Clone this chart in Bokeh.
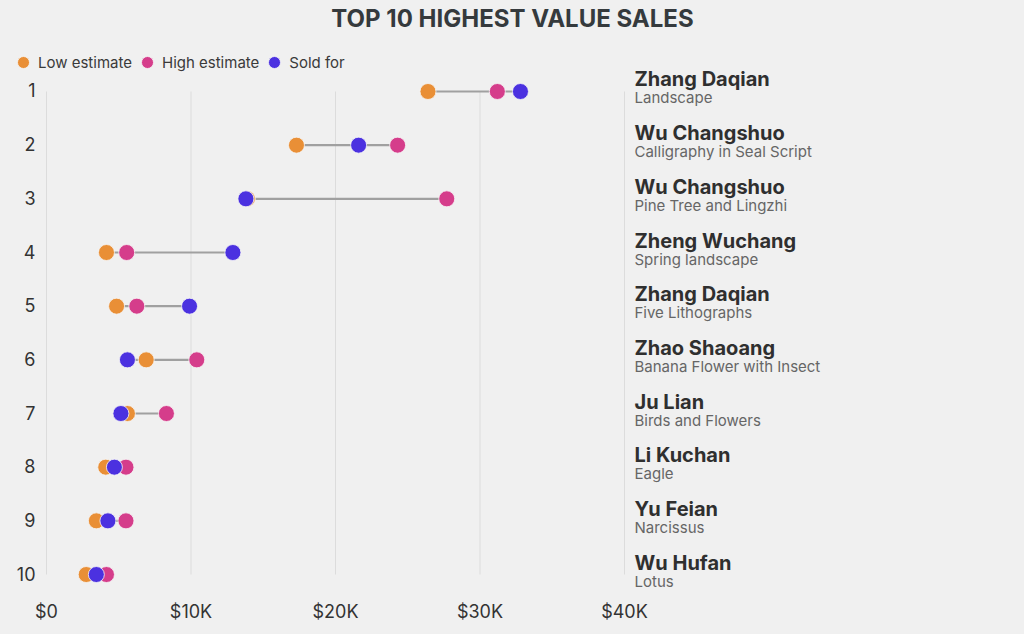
import numpy as np
from bokeh.plotting import figure
from bokeh.models import ColumnDataSource, Range1d, FixedTicker, Legend, LegendItem, Label
from bokeh.core.properties import value
from bokeh.embed import file_html
from bokeh.resources import INLINE

# ---------------- data ----------------
ranks = list(range(1, 11))
rank_labels = [str(r) for r in ranks]
artists = ["Zhang Daqian", "Wu Changshuo", "Wu Changshuo", "Zheng Wuchang", "Zhang Daqian",
           "Zhao Shaoang", "Ju Lian", "Li Kuchan", "Yu Feian", "Wu Hufan"]
works = ["Landscape", "Calligraphy in Seal Script", "Pine Tree and Lingzhi", "Spring landscape",
         "Five Lithographs", "Banana Flower with Insect", "Birds and Flowers", "Eagle",
         "Narcissus", "Lotus"]
low = [26400, 17300, 13900, 4150, 4850, 6900, 5600, 4100, 3450, 2750]
high = [31200, 24300, 27700, 5550, 6250, 10400, 8300, 5500, 5500, 4150]
sold = [32800, 21600, 13800, 12900, 9900, 5600, 5150, 4700, 4250, 3450]
x_ticks = [0, 10000, 20000, 30000, 40000]
x_tick_labels = ["$0", "$10K", "$20K", "$30K", "$40K"]
title_text = "TOP 10 HIGHEST VALUE SALES"

# ---------------- style ----------------
BG = "#f0f0f0"
FONT = "Inter"
ORANGE = "#e98f36"
PINK = "#d53d8b"
BLUE = "#4b31e0"

lo = np.minimum(np.minimum(low, high), sold)
hi = np.maximum(np.maximum(low, high), sold)

src = ColumnDataSource(dict(rank=ranks, rank_label=rank_labels, artist=artists, work=works,
                            low=low, high=high, sold=sold, lo=lo, hi=hi))
grid_src = ColumnDataSource(dict(x=x_ticks, y0=[min(ranks)] * len(x_ticks),
                                 y1=[max(ranks)] * len(x_ticks)))

p = figure(frame_width=1024, frame_height=592,
           x_range=Range1d(-3183, 67682), y_range=Range1d(10.335, -0.6955),
           output_backend="svg", toolbar_location=None, min_border=0,
           background_fill_color=BG, border_fill_color=BG, outline_line_color=None)
p.grid.visible = False
p.yaxis.visible = False

ax = p.xaxis[0]
ax.ticker = FixedTicker(ticks=x_ticks)
ax.major_label_overrides = {t: l for t, l in zip(x_ticks, x_tick_labels)}
ax.axis_line_color = None
ax.major_tick_line_color = None
ax.minor_tick_line_color = None
ax.major_tick_out = 0
ax.minor_tick_out = 0
ax.major_label_standoff = 8
ax.major_label_text_font = FONT
ax.major_label_text_font_size = "18px"
ax.major_label_text_color = "#333333"

# vertical grid segments
p.segment(x0="x", y0="y0", x1="x", y1="y1", source=grid_src, line_color="#dcdcdc", line_width=1)

# connectors
p.segment(x0="lo", y0="rank", x1="hi", y1="rank", source=src, line_color="#a0a0a0", line_width=2.2)

r_low = p.scatter("low", "rank", source=src, size=16, fill_color=ORANGE, line_color="#f6f6f6", line_width=0.8)
r_high = p.scatter("high", "rank", source=src, size=16, fill_color=PINK, line_color="#f6f6f6", line_width=0.8)
r_sold = p.scatter("sold", "rank", source=src, size=16, fill_color=BLUE, line_color="#f6f6f6", line_width=0.8)

# rank labels
p.text(x=x_ticks[0], y="rank", text="rank_label", source=src, x_offset=-11, y_offset=-1,
       text_align="right", text_baseline="middle", text_font=value(FONT),
       text_font_size="18px", text_color="#333333")

# artist / work labels
p.text(x=x_ticks[-1], y="rank", text="artist", source=src, x_offset=10, y_offset=-12,
       text_align="left", text_baseline="alphabetic", text_font=value(FONT),
       text_font_size="20px", text_font_style="bold", text_color="#2f2f2f")
p.text(x=x_ticks[-1], y="rank", text="work", source=src, x_offset=10, y_offset=6.5,
       text_align="left", text_baseline="alphabetic", text_font=value(FONT),
       text_font_size="15px", text_color="#666666")

legend = Legend(items=[LegendItem(label="Low estimate", renderers=[r_low]),
                       LegendItem(label="High estimate", renderers=[r_high]),
                       LegendItem(label="Sold for", renderers=[r_sold])],
                orientation="horizontal", location=(8, 515),
                glyph_width=30, glyph_height=30, label_standoff=0, spacing=0,
                padding=0, margin=0, border_line_color=None, background_fill_alpha=0,
                label_text_font=FONT, label_text_font_size="15px", label_text_color="#3a3a3a")
p.add_layout(legend)

title = Label(x=512, y=574.2, x_units="screen", y_units="screen", text=title_text,
              text_align="center", text_baseline="alphabetic", text_font=FONT,
              text_font_size="24px", text_font_style="bold", text_color="#353a3d")
p.add_layout(title)

html = file_html(p, INLINE, title="Top 10 highest value sales")
html = html.replace("<head>", "<head><style>html, body { background: #f0f0f0; }</style>", 1)
open("out.html", "w").write(html)
